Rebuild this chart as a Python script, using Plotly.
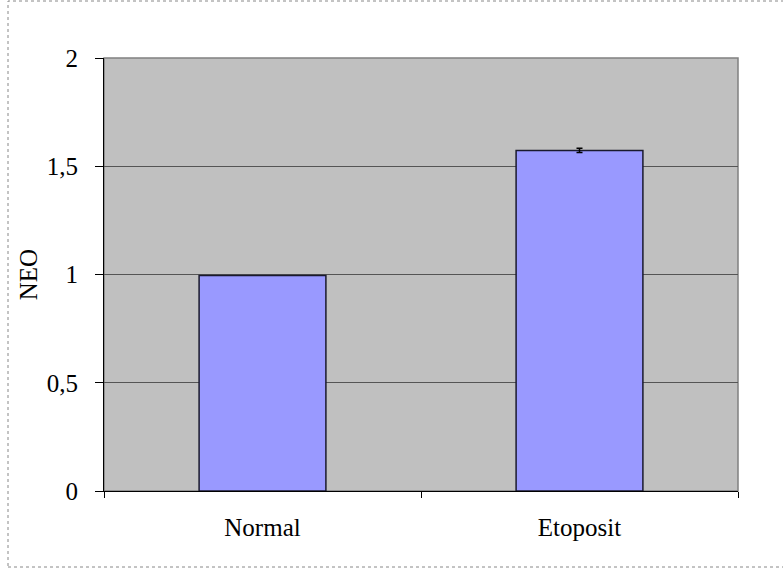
import plotly.graph_objects as go

categories = ["Normal", "Etoposit"]
values = [0.995, 1.573]
errors = [None, 0.01]
y_ticks = [0, 0.5, 1, 1.5, 2]
y_tick_labels = ["0", "0,5", "1", "1,5", "2"]

W, H = 783, 569
L, R, T, B = 104, 45, 58, 78
pw, ph = W - L - R, H - T - B

fig = go.Figure()
for cat, val, err in zip(categories, values, errors):
    kw = {}
    if err is not None:
        kw["error_y"] = dict(type="data", array=[err], visible=True, color="#000000",
                             thickness=1.5, width=3)
    fig.add_trace(go.Bar(
        x=[cat], y=[val], width=0.4,
        marker=dict(color="#9999FF", line=dict(color="#1a1a2e", width=1.5)),
        **kw,
    ))

def px(x):
    return (x - L) / pw

def py(y):
    return (H - B - y) / ph

fig.update_layout(
    width=W, height=H,
    margin=dict(l=L, r=R, t=T, b=B),
    paper_bgcolor="white",
    plot_bgcolor="#C0C0C0",
    font=dict(family="Liberation Serif", size=25, color="black"),
    showlegend=False,
    barmode="overlay",
    shapes=[
        dict(type="rect", xref="paper", yref="paper",
             x0=px(8), x1=px(800), y0=py(567), y1=py(1),
             line=dict(color="#888888", width=1, dash="dot"), layer="below"),
        dict(type="rect", xref="paper", yref="paper",
             x0=0, x1=1, y0=0, y1=1,
             line=dict(color="#808080", width=1.5), layer="below"),
    ],
)
fig.update_xaxes(
    categoryorder="array", categoryarray=categories,
    tickson="boundaries", ticks="outside", ticklen=6, tickcolor="#000000",
    showline=True, linecolor="#000000", linewidth=1, showgrid=False,
    tickfont=dict(size=25), ticklabelstandoff=14,
)
fig.update_yaxes(
    range=[0, 2], tickvals=y_ticks, ticktext=y_tick_labels,
    ticks="outside", ticklen=8, tickcolor="#000000",
    showline=True, linecolor="#000000", linewidth=1,
    showgrid=True, gridcolor="#555555", gridwidth=1, zeroline=False,
    title=dict(text="NEO", font=dict(size=25), standoff=2),
    tickfont=dict(size=25), ticklabelstandoff=12,
)
fig.write_html("out.html", config={"displayModeBar": False},
               post_script="document.body.style.margin='0';")
